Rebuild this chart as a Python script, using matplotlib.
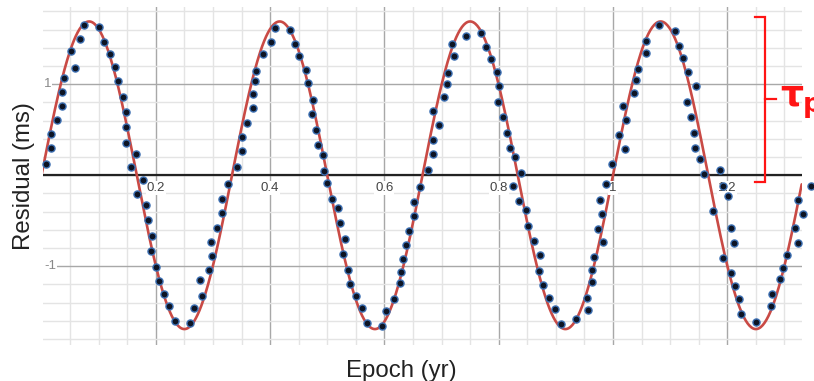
import numpy as np
import matplotlib
matplotlib.use("Agg")
import matplotlib.pyplot as plt
from matplotlib.ticker import MultipleLocator

# ---------------- data ----------------
epoch = [0.008, 0.017, 0.017, 0.027, 0.036, 0.036, 0.040, 0.052, 0.058, 0.067,
         0.075, 0.100, 0.110, 0.120, 0.129, 0.133, 0.142, 0.147, 0.147, 0.147,
         0.166, 0.156, 0.177, 0.167, 0.183, 0.187, 0.194, 0.191, 0.200, 0.206,
         0.214, 0.223, 0.233, 0.259, 0.267, 0.277, 0.281, 0.293, 0.298, 0.297,
         0.307, 0.316, 0.316, 0.326, 0.342, 0.351, 0.351, 0.360, 0.370, 0.370,
         0.374, 0.375, 0.387, 0.401, 0.408, 0.434, 0.443, 0.451, 0.462, 0.466,
         0.475, 0.473, 0.480, 0.484, 0.493, 0.494, 0.500, 0.508, 0.519, 0.523,
         0.531, 0.527, 0.537, 0.540, 0.551, 0.561, 0.569, 0.595, 0.603, 0.617,
         0.628, 0.629, 0.633, 0.637, 0.643, 0.652, 0.652, 0.662, 0.677, 0.685,
         0.685, 0.695, 0.685, 0.705, 0.709, 0.711, 0.722, 0.719, 0.743, 0.769,
         0.778, 0.787, 0.797, 0.801, 0.799, 0.808, 0.815, 0.819, 0.829, 0.839,
         0.825, 0.835, 0.847, 0.851, 0.862, 0.872, 0.871, 0.877, 0.888, 0.898,
         0.909, 0.935, 0.957, 0.955, 0.963, 0.964, 0.967, 0.982, 0.973, 0.981,
         0.978, 0.987, 0.999, 1.021, 1.011, 1.023, 1.017, 1.036, 1.041, 1.044,
         1.057, 1.057, 1.081, 1.108, 1.115, 1.123, 1.131, 1.145, 1.129, 1.136,
         1.141, 1.143, 1.153, 1.160, 1.188, 1.192, 1.201, 1.175, 1.206, 1.211,
         1.193, 1.206, 1.213, 1.220, 1.224, 1.251, 1.277, 1.278, 1.292, 1.297,
         1.304, 1.324, 1.319, 1.332, 1.323, 1.347]
residual = [0.128, 0.300, 0.451, 0.612, 0.766, 0.920, 1.066, 1.363, 1.184, 1.492,
            1.656, 1.627, 1.465, 1.338, 1.195, 1.037, 0.861, 0.700, 0.525, 0.360,
            0.239, 0.088, -0.055, -0.209, -0.329, -0.495, -0.670, -0.828, -1.008, -1.161,
            -1.308, -1.437, -1.597, -1.624, -1.458, -1.151, -1.330, -1.036, -0.887, -0.737,
            -0.575, -0.418, -0.264, -0.096, 0.096, 0.264, 0.421, 0.579, 0.737, 0.890,
            1.033, 1.151, 1.338, 1.465, 1.623, 1.601, 1.437, 1.308, 1.161, 1.012,
            0.832, 0.670, 0.502, 0.329, 0.223, 0.051, -0.085, -0.256, -0.359, -0.521,
            -0.696, -0.865, -1.036, -1.195, -1.330, -1.458, -1.624, -1.653, -1.495, -1.363,
            -1.187, -1.063, -0.920, -0.766, -0.608, -0.451, -0.297, -0.128, 0.062, 0.239,
            0.392, 0.549, 0.707, 0.861, 1.008, 1.129, 1.308, 1.437, 1.535, 1.564,
            1.404, 1.279, 1.136, 0.978, 0.806, 0.638, 0.465, 0.305, 0.201, 0.030,
            -0.121, -0.283, -0.385, -0.553, -0.722, -0.877, -1.052, -1.206, -1.345, -1.473,
            -1.630, -1.583, -1.481, -1.352, -1.168, -1.044, -0.898, -0.737, -0.586, -0.421,
            -0.271, -0.096, 0.128, 0.294, 0.448, 0.604, 0.762, 0.905, 1.052, 1.168,
            1.344, 1.473, 1.656, 1.583, 1.418, 1.290, 1.140, 0.982, 0.806, 0.638,
            0.465, 0.300, 0.183, 0.014, 0.062, -0.117, -0.231, -0.395, -0.575, -0.740,
            -0.912, -1.074, -1.220, -1.356, -1.528, -1.608, -1.437, -1.304, -1.136, -1.019,
            -0.880, -0.740, -0.575, -0.425, -0.267, -0.113]

# fitted sinusoid parameters
amplitude = 1.69      # ms
period = 1.0 / 3.0    # yr
phase = 0.0

x_tick_values = [0.2, 0.4, 0.6, 0.8, 1.0, 1.2]
x_tick_labels = ["0.2", "0.4", "0.6", "0.8", "1", "1.2"]
y_tick_values = [1, -1]
y_tick_labels = ["1", "-1"]

# bracket annotation (data units)
bracket_top = 1.74
bracket_bottom = -0.07

# ---------------- figure ----------------
W, H = 814, 381
fig = plt.figure(figsize=(W / 100, H / 100), dpi=100)
ax = fig.add_axes([43 / W, 1 - 345 / H, (801.7 - 43) / W, (345 - 7) / H])

xmin, xmax = 0.0026, 1.3302
ymin, ymax = -1.865, 1.849
ax.set_xlim(xmin, xmax)
ax.set_ylim(ymin, ymax)

for s in ax.spines.values():
    s.set_visible(False)
ax.tick_params(which="both", length=0, labelbottom=False, labelleft=False)

ax.xaxis.set_major_locator(MultipleLocator(0.2))
ax.xaxis.set_minor_locator(MultipleLocator(0.05))
ax.yaxis.set_major_locator(MultipleLocator(1))
ax.yaxis.set_minor_locator(MultipleLocator(0.2))
ax.grid(which="minor", color="#e4e4e4", linewidth=1.0, zorder=0)
ax.grid(which="major", color="#a8a8a8", linewidth=1.0, zorder=0)
ax.set_axisbelow(True)

ax.axhline(0, color="#222222", linewidth=1.6, zorder=1)

# fitted curve
t = np.linspace(0, xmax, 800)
ax.plot(t, amplitude * np.sin(2 * np.pi * (t - phase) / period),
        color="#c94a45", linewidth=1.9, zorder=2, solid_capstyle="round")

# data points
ax.scatter(epoch, residual, s=26, facecolor="#0d1424", edgecolor="#3c6fb2",
           linewidths=1.0, zorder=3, clip_on=False)

# tick labels (Desmos style)
fnt = "Liberation Sans"
for v, lab in zip(x_tick_values, x_tick_labels):
    ax.text(v, -0.14, lab, ha="center", va="center", fontsize=9.5, family=fnt,
            color="#444444", zorder=2.5,
            bbox=dict(facecolor="white", edgecolor="none", pad=0.6))
for v, lab in zip(y_tick_values, y_tick_labels):
    ax.text(xmin + 0.002, v, lab, ha="left", va="center", fontsize=9.5,
            family=fnt, color="#888888", zorder=2.5,
            bbox=dict(facecolor="white", edgecolor="none", pad=0.6))

# axis titles
fig.text(401.5 / W, 1 - 377 / H, "Epoch (yr)", ha="center", va="baseline",
         fontsize=17.3, family=fnt, color="#222222")
fig.text(24 / W, 1 - 176.5 / H, "Residual (ms)", ha="center", va="center",
         rotation=90, fontsize=17.3, family=fnt, color="#222222")

# red bracket marking tau_p
red = "#ff1414"
bx0, bx1, bnub = 1.2485, 1.2665, 1.2855
bmid = (bracket_top + bracket_bottom) / 2
ax.plot([bx0, bx1, bx1, bx0], [bracket_top, bracket_top, bracket_bottom, bracket_bottom],
        color=red, linewidth=1.6, clip_on=False, zorder=4, solid_joinstyle="miter")
ax.plot([bx1, bnub], [bmid, bmid], color=red, linewidth=1.6, clip_on=False, zorder=4)

fig.text(780 / W, 1 - 105 / H, "τ", ha="left", va="baseline", fontsize=26,
         family="DejaVu Sans", fontweight="bold", color=red)
fig.text(803 / W, 1 - 112 / H, "p", ha="left", va="baseline", fontsize=19,
         family="DejaVu Sans", fontweight="bold", color=red)

fig.savefig("out.png", dpi=100)
